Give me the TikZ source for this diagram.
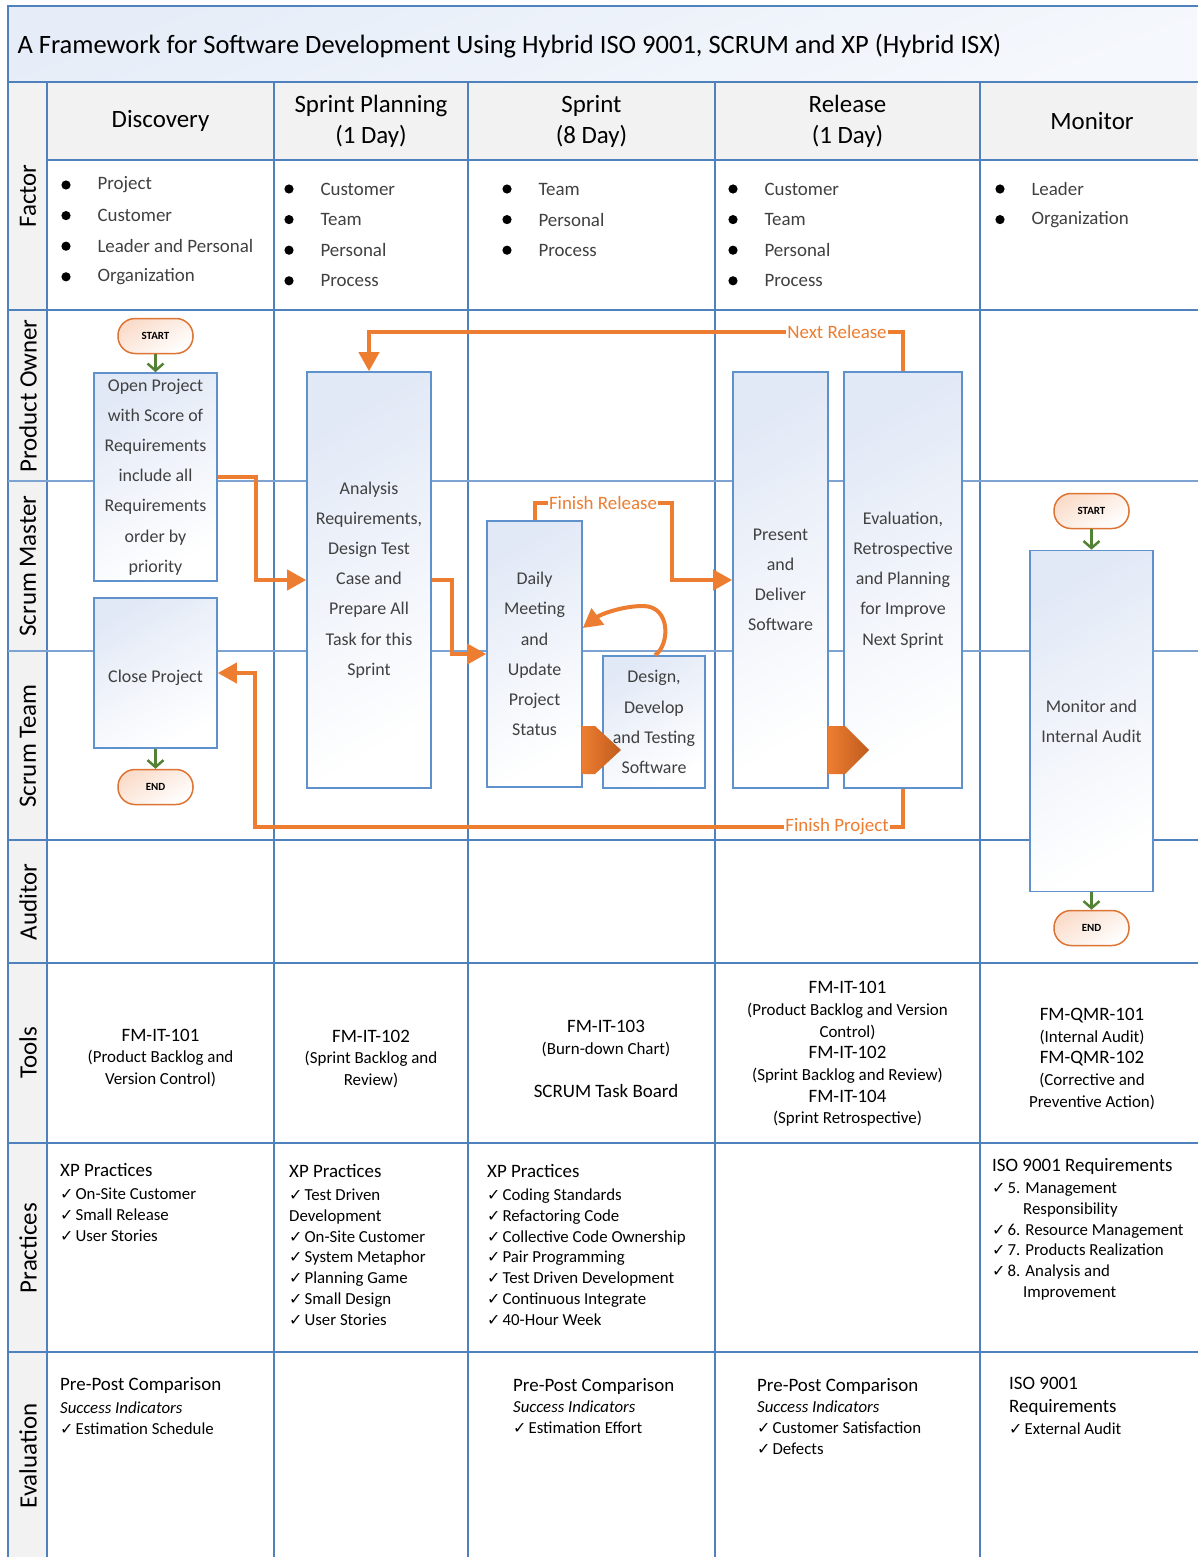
\documentclass[tikz,border=0pt]{standalone}
\usepackage{fontspec}
\setmainfont{Carlito}
\newfontfamily\checkfont{DejaVu Sans}
\usetikzlibrary{arrows.meta,calc}

\definecolor{gridblue}{RGB}{79,129,189}
\definecolor{laneblue}{RGB}{125,163,210}
\definecolor{boxline}{RGB}{95,145,205}
\definecolor{boxtop}{RGB}{226,233,246}
\definecolor{flowor}{RGB}{237,125,49}
\definecolor{chevdark}{RGB}{192,92,30}
\definecolor{startgreen}{RGB}{84,130,53}
\definecolor{pillor}{RGB}{222,116,52}
\definecolor{pilltop}{RGB}{250,220,202}
\definecolor{headgray}{RGB}{242,242,242}
\definecolor{txtgray}{RGB}{64,64,64}
\definecolor{titletop}{RGB}{230,237,248}

\newcommand{\chk}{{\checkfont\fontsize{16}{16}\selectfont ✓}\kern2bp}
\newcommand{\hd}[1]{{\fontsize{19}{21}\selectfont #1}}

\tikzset{
  grid/.style={draw=gridblue, line width=1.6bp},
  lane/.style={draw=laneblue, line width=1.2bp},
  rowlbl/.style={rotate=90, font=\fontsize{25}{28}\selectfont},
  colhead/.style={align=center, font=\fontsize{25}{31}\selectfont},
  fact/.style={anchor=west, text=txtgray, font=\fontsize{19}{20}\selectfont},
  proc/.style={draw=boxline, line width=1.6bp, top color=boxtop, bottom color=white,
    shading angle=30, align=center, inner sep=0pt, text=txtgray,
    font=\fontsize{18}{30.3}\selectfont},
  pill/.style={draw=pillor, line width=1.5bp, rounded corners=17bp, top color=pilltop,
    bottom color=white, shading angle=30, minimum width=75bp, minimum height=35bp,
    inner sep=0pt, font=\bfseries\fontsize{11}{12}\selectfont},
  gflow/.style={draw=startgreen, line width=2.5bp, -{Straight Barb[length=7bp,width=16bp]}},
  flow/.style={draw=flowor, line width=4bp, -{Triangle[length=19bp,width=20bp]}},
  flowlbl/.style={fill=white, inner sep=1bp, text=flowor, font=\fontsize{19}{20}\selectfont},
  chev/.style={left color=flowor, right color=chevdark},
  tool/.style={align=center, font=\fontsize{17}{21.7}\selectfont},
  prac/.style={anchor=north west, align=left, inner sep=0pt, font=\fontsize{16.9}{21}\selectfont},
}

\begin{document}
\begin{tikzpicture}[x=1bp,y=-1bp]
\useasboundingbox (0,0) rectangle (1197,1557);

% backgrounds
\shade[top color=titletop, bottom color=white!60!titletop, shading angle=20] (8,6) rectangle (1197,82);
\fill[headgray] (47,82) rectangle (1197,160);
\fill[headgray] (8,82) rectangle (47,1557);

% table lines
\draw[grid] (1200,6) -- (8,6) -- (8,1560);
\foreach \x in {47,274,468,715,980} \draw[grid] (\x,82) -- (\x,1560);
\draw[grid] (8,82) -- (1200,82);
\draw[grid] (47,160) -- (1200,160);
\foreach \y in {310,840,963,1143,1352} \draw[grid] (8,\y) -- (1200,\y);
\foreach \y in {481,651} \draw[lane] (8,\y) -- (1200,\y);

% title
\node[anchor=west, font=\fontsize{26.6}{30}\selectfont] (title) at (14,46)
  {A Framework for Software Development Using Hybrid ISO 9001, SCRUM and XP (Hybrid ISX)};

% row labels
\node[rowlbl] (rfactor) at (28,196) {Factor};
\node[rowlbl] (rowner) at (28,396) {Product Owner};
\node[rowlbl] (rmaster) at (28,566) {Scrum Master};
\node[rowlbl] (rteam) at (28,746) {Scrum Team};
\node[rowlbl] (raudit) at (28,902) {Auditor};
\node[rowlbl] (rtools) at (28,1053) {Tools};
\node[rowlbl] (rprac) at (28,1248) {Practices};
\node[rowlbl] (reval) at (28,1456) {Evaluation};

% column headers
\node[colhead] (hdisc) at (160.5,121) {Discovery};
\node[colhead] (hplan) at (371,121) {Sprint Planning\\(1 Day)};
\node[colhead] (hsprint) at (591.5,121) {Sprint\\(8 Day)};
\node[colhead] (hrel) at (847.5,121) {Release\\(1 Day)};
\node[colhead] (hmon) at (1092,121) {Monitor};

% factors
\foreach \bx/\ty/\lst [count=\c] in {66/185/{Project,Customer,Leader and Personal,Organization},
    289/189/{Customer,Team,Personal,Process}, 507/189/{Team,Personal,Process},
    733/189/{Customer,Team,Personal,Process}, 1000/189/{Leader,Organization}}
  \foreach \t [count=\i from 0] in \lst {
    \fill (\bx,\ty+30.6*\i) circle (4.6bp);
    \node[fact] (f\c-\i) at (\bx+28,\ty+30.6*\i) {\t};
  }

% process boxes
\node[pill] (start1) at (155.5,336) {START};
\node[proc, minimum width=123bp, minimum height=208bp] (open) at (155.5,477)
  {Open Project\\with Score of\\Requirements\\include all\\Requirements\\order by\\priority};
\node[proc, minimum width=123bp, minimum height=150bp] (close) at (155.5,673)
  {\rule{0pt}{23bp}Close Project};
\node[pill] (end1) at (155.5,787) {END};
\node[proc, minimum width=124bp, minimum height=416bp] (analysis) at (369,580)
  {Analysis\\Requirements,\\Design Test\\Case and\\Prepare All\\Task for this\\Sprint};
\node[proc, minimum width=95bp, minimum height=266bp] (daily) at (534.5,654)
  {Daily\\Meeting\\and\\Update\\Project\\Status};
\node[proc, minimum width=102bp, minimum height=132bp] (design) at (654,722)
  {Design,\\Develop\\and Testing\\Software};
\node[proc, minimum width=95bp, minimum height=416bp] (present) at (780.5,580)
  {Present\\and\\Deliver\\Software};
\node[proc, minimum width=118bp, minimum height=416bp] (eval) at (903,580)
  {Evaluation,\\Retrospective\\and Planning\\for Improve\\Next Sprint};
\node[pill] (start2) at (1091.5,511) {START};
\node[proc, minimum width=123bp, minimum height=341bp] (monitor) at (1091.5,721)
  {Monitor and\\Internal Audit};
\node[pill] (end2) at (1091.5,928) {END};

% chevrons
\shade[chev] (582,726) -- (595,726) -- (621,750) -- (595,774) -- (582,774) -- cycle;
\shade[chev] (828,726) -- (845,726) -- (869,750) -- (845,774) -- (828,774) -- cycle;

% green start / end arrows
\draw[gflow] (start1) -- (open);
\draw[gflow] (close) -- (end1);
\draw[gflow] (start2) -- (monitor);
\draw[gflow] (monitor) -- (end2);

% orange flows
\draw[flow] (open.east) -- ++(38,0) |- (analysis);
\draw[flow] (analysis.east) -- ++(20,0) |- (daily);
\draw[flow] (daily.north) -- ++(0,-17) -- node[flowlbl] (lblfr) {Finish Release} ++(137,0) |- (present);
\draw[flow] ($(design.north)+(1,0)$) .. controls (670,645) and (671,606) .. (643,606)
  .. controls (623,606) and (601,614) .. ($(daily.east)+(0,-26)$);
\draw[flow] (eval.north) -- ++(0,-39) -- node[flowlbl] (lblnr) {Next Release} ++(-132,0) -| (analysis.north);
\draw[flow] (eval.south) -- ++(0,38) -- node[flowlbl] (lblfp) {Finish Project} ++(-132,0)
  -- ++(-516,0) |- (close);

% tools
\node[tool] (tdisc) at (160.5,1058) {\hd{FM-IT-101}\\(Product Backlog and\\Version Control)};
\node[tool] (tplan) at (371,1059) {\hd{FM-IT-102}\\(Sprint Backlog and\\Review)};
\node[tool] (tsprint) at (606,1059) {\hd{FM-IT-103}\\(Burn-down Chart)\\[21.7bp]\hd{SCRUM Task Board}};
\node[tool] (trel) at (847.5,1054) {\hd{FM-IT-101}\\(Product Backlog and Version\\Control)\\\hd{FM-IT-102}\\(Sprint Backlog and Review)\\\hd{FM-IT-104}\\(Sprint Retrospective)};
\node[tool] (tmon) at (1092,1059) {\hd{FM-QMR-101}\\(Internal Audit)\\\hd{FM-QMR-102}\\(Corrective and\\Preventive Action)};

% practices
\node[prac] (pdisc) at (60,1163) {\hd{XP Practices}\\[2bp]
  \chk On-Site Customer\\\chk Small Release\\\chk User Stories};
\node[prac] (pplan) at (289,1164) {\hd{XP Practices}\\[2bp]
  \chk Test Driven\\Development\\\chk On-Site Customer\\\chk System Metaphor\\
  \chk Planning Game\\\chk Small Design\\\chk User Stories};
\node[prac] (psprint) at (487,1164) {\hd{XP Practices}\\[2bp]
  \chk Coding Standards\\\chk Refactoring Code\\\chk Collective Code Ownership\\
  \chk Pair Programming\\\chk Test Driven Development\\\chk Continuous Integrate\\\chk 40-Hour Week};
\node[prac] (pmon) at (992,1158) {\hd{ISO 9001 Requirements}\\[1bp]
  \chk 5. Management\\\hspace*{31bp}Responsibility\\\chk 6. Resource Management\\
  \chk 7. Products Realization\\\chk 8. Analysis and\\\hspace*{31bp}Improvement};

% evaluation
\node[prac] (edisc) at (60,1377) {\hd{Pre-Post Comparison}\\[2bp]
  \textit{Success Indicators}\\\chk Estimation Schedule};
\node[prac] (esprint) at (513,1378) {\hd{Pre-Post Comparison}\\[0bp]
  \textit{Success Indicators}\\\chk Estimation Effort};
\node[prac] (erel) at (757,1378) {\hd{Pre-Post Comparison}\\[0bp]
  \textit{Success Indicators}\\\chk Customer Satisfaction\\\chk Defects};
\node[prac] (emon) at (1009,1377) {\hd{ISO 9001}\\[2bp]
  \hd{Requirements}\\[1bp]\chk External Audit};
\end{tikzpicture}
\end{document}
